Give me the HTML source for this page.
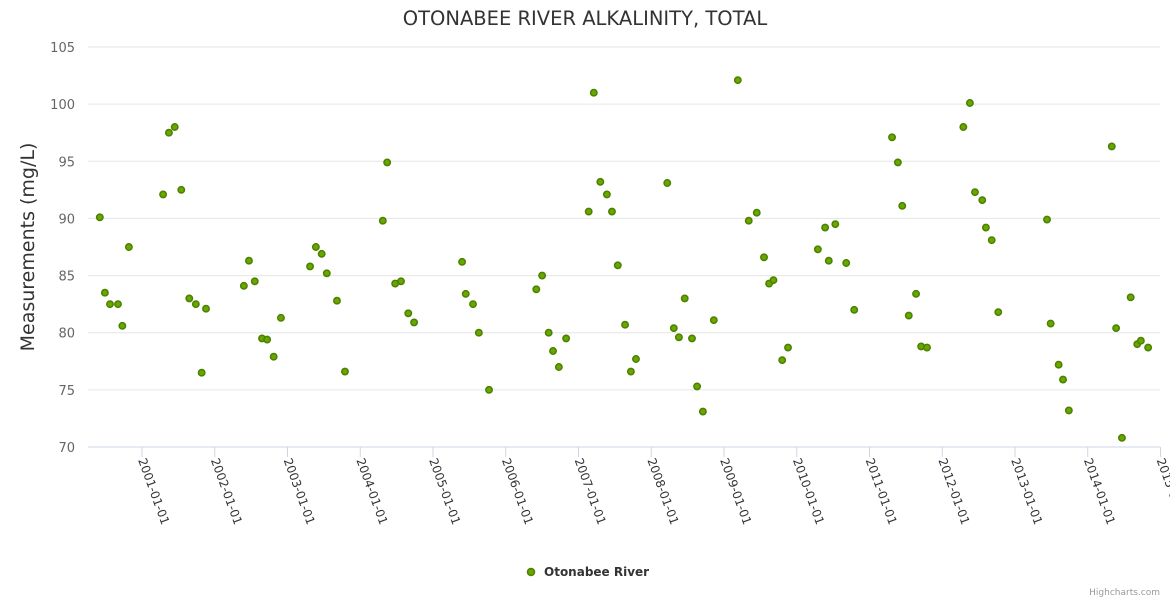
<!DOCTYPE html>
<html><head><meta charset="utf-8"><style>
body{margin:0;background:#fff;}
svg{display:block;font-family:"DejaVu Sans","Liberation Sans",sans-serif;}
</style></head><body>
<svg id="chart" width="1170" height="600">
<rect width="1170" height="600" fill="#fff"/>
<text x="585" y="25" text-anchor="middle" font-size="19.5" fill="#333">OTONABEE RIVER ALKALINITY, TOTAL</text>
<g id="grid"></g>
<g id="yticks"></g>
<g id="xticks"></g>
<text transform="translate(34,247) rotate(-90)" text-anchor="middle" font-size="19" fill="#333">Measurements (mg/L)</text>
<g id="points"></g>
<g>
<circle cx="531" cy="572" r="3.5" fill="#66a800" stroke="#4d7f00" stroke-width="1.5"/>
<text x="544" y="576" font-size="12" font-weight="bold" fill="#333">Otonabee River</text>
</g>
<text x="1160" y="595" text-anchor="end" font-size="9" fill="#999">Highcharts.com</text>
</svg>
<script>
const years = [2000.42,2000.49,2000.56,2000.67,2000.73,2000.82,2001.29,2001.37,2001.45,2001.54,2001.65,2001.74,2001.82,2001.88,2002.40,2002.47,2002.55,2002.65,2002.72,2002.81,2002.91,2003.31,2003.39,2003.47,2003.54,2003.68,2003.79,2004.31,2004.37,2004.48,2004.56,2004.66,2004.74,2005.40,2005.45,2005.55,2005.63,2005.77,2006.42,2006.50,2006.59,2006.65,2006.73,2006.83,2007.14,2007.21,2007.30,2007.39,2007.46,2007.54,2007.64,2007.72,2007.79,2008.22,2008.31,2008.38,2008.46,2008.56,2008.63,2008.71,2008.86,2009.19,2009.34,2009.45,2009.55,2009.62,2009.68,2009.80,2009.88,2010.29,2010.39,2010.44,2010.53,2010.68,2010.79,2011.31,2011.39,2011.45,2011.54,2011.64,2011.71,2011.79,2012.29,2012.38,2012.45,2012.55,2012.60,2012.68,2012.77,2013.44,2013.49,2013.60,2013.66,2013.74,2014.33,2014.39,2014.47,2014.59,2014.68,2014.73,2014.83];
const values = [90.1,83.5,82.5,82.5,80.6,87.5,92.1,97.5,98,92.5,83,82.5,76.5,82.1,84.1,86.3,84.5,79.5,79.4,77.9,81.3,85.8,87.5,86.9,85.2,82.8,76.6,89.8,94.9,84.3,84.5,81.7,80.9,86.2,83.4,82.5,80,75,83.8,85,80,78.4,77,79.5,90.6,101,93.2,92.1,90.6,85.9,80.7,76.6,77.7,93.1,80.4,79.6,83,79.5,75.3,73.1,81.1,102.1,89.8,90.5,86.6,84.3,84.6,77.6,78.7,87.3,89.2,86.3,89.5,86.1,82,97.1,94.9,91.1,81.5,83.4,78.8,78.7,98,100.1,92.3,91.6,89.2,88.1,81.8,89.9,80.8,77.2,75.9,73.2,96.3,80.4,70.8,83.1,79,79.3,78.7];
const yTicks = [70,75,80,85,90,95,100,105];
const xTickYears = [2001,2002,2003,2004,2005,2006,2007,2008,2009,2010,2011,2012,2013,2014,2015];
const NS="http://www.w3.org/2000/svg";
const L=88,R=1160,T=47,B=447;
function xs(yr){return 142+(yr-2001)*72.75;}
function ys(v){return B-(v-70)*(B-T)/35;}
function mk(tag,attrs,parent){const e=document.createElementNS(NS,tag);for(const k in attrs)e.setAttribute(k,attrs[k]);parent.appendChild(e);return e;}
const grid=document.getElementById('grid'),yt=document.getElementById('yticks'),xt=document.getElementById('xticks'),pts=document.getElementById('points');
yTicks.forEach(v=>{
  const g=mk('line',{x1:L,x2:R,y1:ys(v),y2:ys(v),stroke:v===70?'#ccd6eb':'#e6e6e6','stroke-width':1},grid);
  
  
  const t=mk('text',{x:75,y:ys(v)+5,'text-anchor':'end','font-size':13,fill:'#666'},yt);
  t.textContent=v;
  
  
});
xTickYears.forEach(yr=>{
  const x=xs(yr);
  const l=mk('line',{x1:x,x2:x,y1:B,y2:B+10,stroke:'#ccd6eb'},xt);
  
  
  const t=mk('text',{transform:'translate('+(x-4)+','+(B+13)+') rotate(70)','font-size':12,fill:'#333'},xt);
  t.textContent=yr+'-01-01';
  
  
});
years.forEach((yr,i)=>{
  const c=mk('circle',{cx:xs(yr),cy:ys(values[i]),r:3.2,fill:'#66a800',stroke:'#4d7f00','stroke-width':1.5},pts);
  
  
});
</script>
</body></html>
